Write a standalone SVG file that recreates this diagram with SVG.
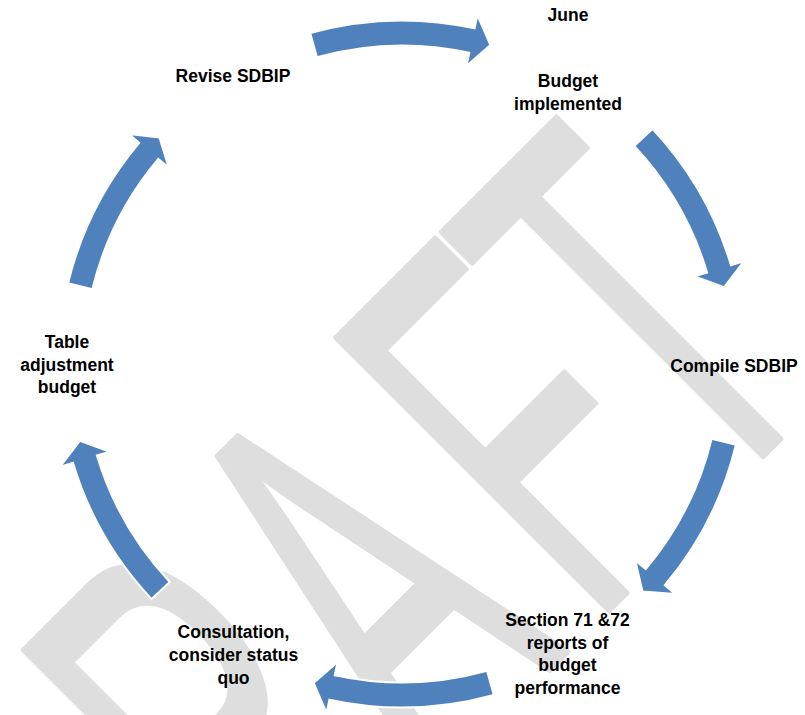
<svg xmlns="http://www.w3.org/2000/svg" width="805" height="715" viewBox="0 0 805 715">
  <defs>
    <style>
      .wm { font-family: "Liberation Sans", Arial, sans-serif; font-size: 560px; fill: #DEDEDE; stroke: #DEDEDE; stroke-width: 6; stroke-linejoin: round; }
      .lbl { font-family: "Liberation Sans", Arial, sans-serif; font-size: 17.5px; font-weight: bold; fill: #000000; text-anchor: middle; }
      .arrow { fill: #4F81BD; stroke: #FFFFFF; stroke-width: 2; stroke-linejoin: miter; }
    </style>
  </defs>
  <rect x="0" y="0" width="805" height="715" fill="#FFFFFF"/>

  <g transform="rotate(-45)">
    <text class="wm" transform="scale(0.52,1)" x="-1311.5 -900 -485 -50 270" y="862">DRAFT</text>
  </g>

  <g id="connectors">
    <path class="arrow" d="M310.2,33.0 A343.5,343.5 0 0 1 474.6,28.3 L477.4,15.1 L490.4,45.1 L466.4,65.9 L469.3,52.7 A318.5,318.5 0 0 0 316.9,57.1 Z"/>
    <path class="arrow" d="M652.4,128.9 A343.5,343.5 0 0 1 731.0,265.3 L743.9,261.4 L724.0,287.3 L694.1,276.3 L707.1,272.5 A318.5,318.5 0 0 0 634.2,146.0 Z"/>
    <path class="arrow" d="M735.9,444.8 A343.5,343.5 0 0 1 664.8,585.2 L675.1,593.9 L642.5,591.4 L635.3,560.5 L645.7,569.1 A318.5,318.5 0 0 0 711.6,438.9 Z"/>
    <path class="arrow" d="M493.8,695.0 A343.5,343.5 0 0 1 329.4,699.7 L326.6,712.9 L313.6,682.9 L337.6,662.1 L334.7,675.3 A318.5,318.5 0 0 0 487.1,670.9 Z"/>
    <path class="arrow" d="M151.6,599.1 A343.5,343.5 0 0 1 73.0,462.7 L60.1,466.6 L80.0,440.7 L109.9,451.7 L96.9,455.5 A318.5,318.5 0 0 0 169.8,582.0 Z"/>
    <path class="arrow" d="M68.1,283.2 A343.5,343.5 0 0 1 139.2,142.8 L128.9,134.1 L159.5,137.6 L168.7,167.5 L158.3,158.9 A318.5,318.5 0 0 0 92.4,289.1 Z"/>
  </g>

  <g id="node-june">
    <text class="lbl" x="568" y="21">June</text>
  </g>
  <g id="node-budget-implemented">
    <text class="lbl" x="568" y="87">Budget</text>
    <text class="lbl" x="568" y="110">implemented</text>
  </g>
  <g id="node-compile-sdbip">
    <text class="lbl" x="734" y="371.5">Compile SDBIP</text>
  </g>
  <g id="node-section-71-72">
    <text class="lbl" x="567.5" y="626">Section 71 &amp;72</text>
    <text class="lbl" x="567.5" y="648.7">reports of</text>
    <text class="lbl" x="567.5" y="671.4">budget</text>
    <text class="lbl" x="567.5" y="694.1">performance</text>
  </g>
  <g id="node-consultation">
    <text class="lbl" x="233.5" y="638">Consultation,</text>
    <text class="lbl" x="233.5" y="661">consider status</text>
    <text class="lbl" x="233.5" y="684">quo</text>
  </g>
  <g id="node-table-adjustment">
    <text class="lbl" x="67" y="348">Table</text>
    <text class="lbl" x="67" y="370.5">adjustment</text>
    <text class="lbl" x="67" y="393">budget</text>
  </g>
  <g id="node-revise-sdbip">
    <text class="lbl" x="233" y="81.7">Revise SDBIP</text>
  </g>
</svg>
